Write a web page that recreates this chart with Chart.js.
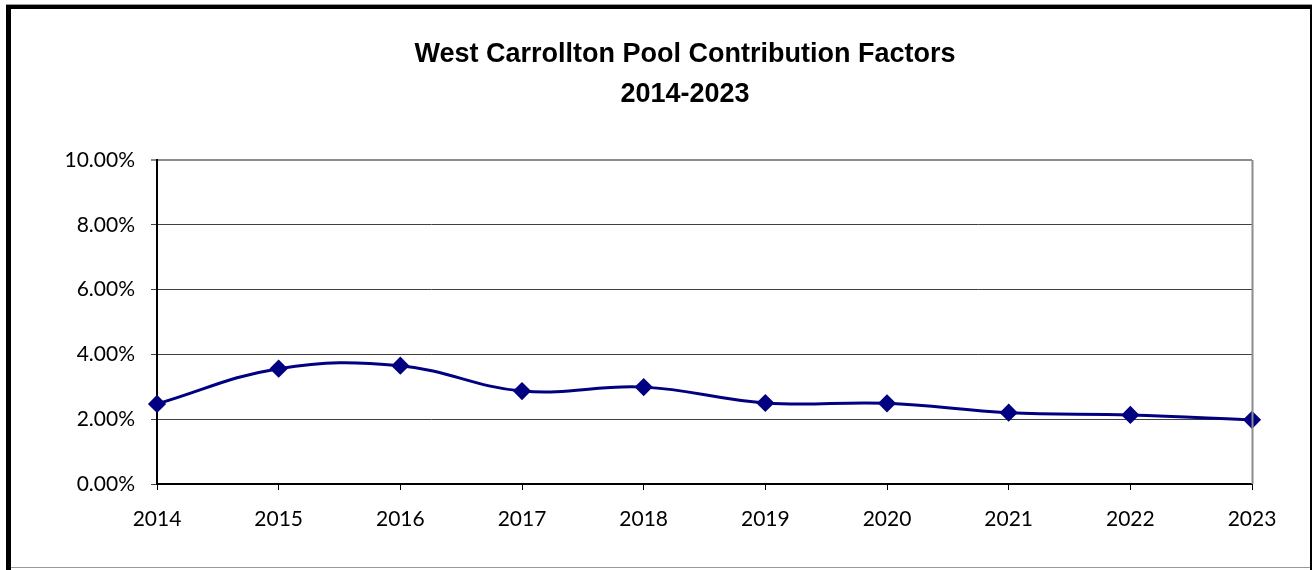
<!DOCTYPE html>
<html>
<head>
<meta charset="utf-8">
<script src="https://cdn.jsdelivr.net/npm/chart.js@4.4.1/dist/chart.umd.min.js"></script>
<style>
html,body{margin:0;padding:0;background:#fff;}
#wrap{position:relative;width:1312px;height:570px;}
</style>
</head>
<body>
<div id="wrap"><canvas id="c" width="1312" height="570"></canvas></div>
<script>
const titleLines = ['West Carrollton Pool Contribution Factors', '2014-2023'];
const years = ['2014','2015','2016','2017','2018','2019','2020','2021','2022','2023'];
const factors = [2.47, 3.56, 3.65, 2.87, 2.99, 2.50, 2.49, 2.20, 2.13, 1.98];
const yTicks = [0, 2, 4, 6, 8, 10];

const framePlugin = {
  id: 'frame',
  afterDraw(chart) {
    const ctx = chart.ctx;
    const a = chart.chartArea;
    ctx.save();
    // title
    ctx.fillStyle = '#000';
    ctx.font = 'bold 27px "Liberation Sans"';
    ctx.textAlign = 'center';
    ctx.textBaseline = 'middle';
    ctx.fillText(titleLines[0], 685, 55);
    ctx.fillText(titleLines[1], 685, 95);
    // plot right border
    ctx.strokeStyle = '#8c8c8c';
    ctx.lineWidth = 2;
    ctx.beginPath();
    ctx.moveTo(a.right + 0.5, a.top);
    ctx.lineTo(a.right + 0.5, a.bottom);
    ctx.stroke();
    // outer frame
    ctx.fillStyle = '#000';
    ctx.fillRect(6, 5, 5, 565);      // left
    ctx.fillRect(6, 5, 1306, 4);     // top
    ctx.fillRect(1310, 5, 2, 565);   // right
    ctx.fillStyle = '#999';
    ctx.fillRect(6, 4, 1306, 1);
    ctx.fillRect(11, 567, 1299, 1);
    ctx.restore();
  }
};

new Chart(document.getElementById('c'), {
  type: 'line',
  data: {
    labels: years,
    datasets: [{
      data: factors,
      borderColor: '#000080',
      backgroundColor: '#000080',
      borderWidth: 3,
      tension: 0.4,
      pointStyle: 'rectRot',
      pointRadius: 7,
      pointHoverRadius: 7,
      pointBackgroundColor: '#000080',
      pointBorderColor: '#000080',
      clip: false
    }]
  },
  options: {
    responsive: false,
    animation: false,
    devicePixelRatio: 1,
    layout: { padding: { top: 160, left: 0, right: 60, bottom: 36 } },
    plugins: {
      legend: { display: false },
      tooltip: { enabled: false },
      title: { display: false }
    },
    scales: {
      x: {
        offset: false,
        grid: { drawOnChartArea: false, drawTicks: true, tickLength: 6, color: '#000' },
        border: { display: true, color: '#000', width: 2 },
        ticks: { color: '#000', font: { family: 'Lato', size: 21 }, padding: 17, maxRotation: 0, autoSkip: false },
        afterFit(s) { s.height = 50; }
      },
      y: {
        min: 0,
        max: 10,
        afterBuildTicks(s) { s.ticks = yTicks.map(v => ({ value: v })); },
        grid: {
          color: ctx => (ctx.tick && ctx.tick.value === 10) ? '#8c8c8c' : '#404040',
          lineWidth: ctx => (ctx.tick && ctx.tick.value === 10) ? 2 : 1,
          drawTicks: true,
          tickLength: 6
        },
        border: { display: true, color: '#000', width: 2 },
        ticks: {
          color: '#000',
          font: { family: 'Lato', size: 21 },
          padding: 16,
          callback: v => v.toFixed(2) + '%'
        },
        afterFit(s) { s.width = 157; }
      }
    }
  },
  plugins: [framePlugin]
});
</script>
</body>
</html>
